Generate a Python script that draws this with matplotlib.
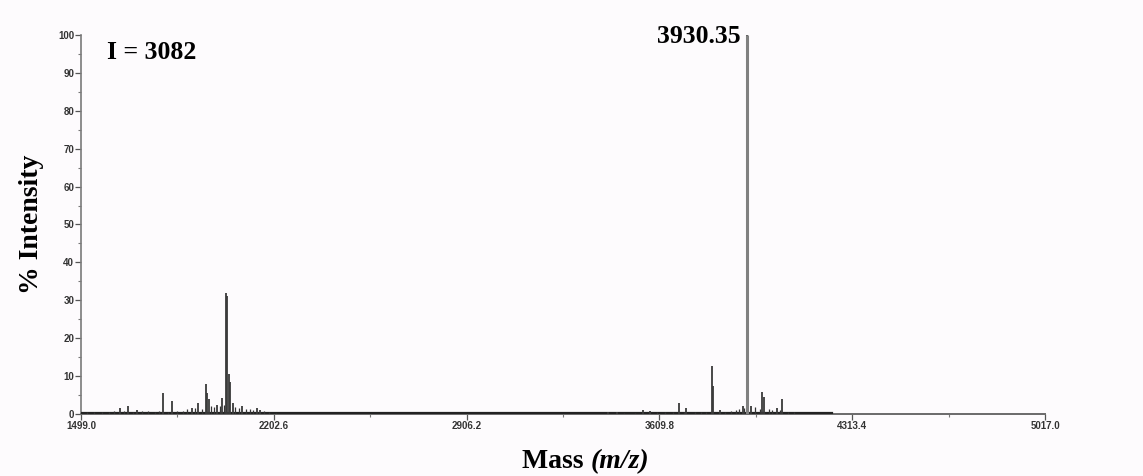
"""MALDI-TOF style stick spectrum, % intensity vs m/z."""

import matplotlib

matplotlib.use("Agg")
import matplotlib.pyplot as plt  # noqa: E402
from matplotlib.ticker import FixedLocator, MultipleLocator  # noqa: E402

# major peaks (m/z, % intensity)
peak_mz = [1641, 1670, 1703, 1798, 1831, 1904, 1926, 1955, 1959, 1966, 1995, 2014,
           2028, 2032, 2039, 2043, 2054, 2087, 2141, 2152,
           3422, 3455, 3550, 3576, 3681, 3707, 3803, 3805, 3832, 3913, 3930.35,
           3944, 3985, 3992, 4037, 4058]
peak_int = [1.5, 2.2, 1.0, 5.5, 3.5, 1.5, 3.0, 7.8, 5.5, 4.0, 2.5, 4.2,
            32.0, 31.0, 10.5, 8.5, 3.0, 2.0, 1.5, 1.0,
            0.5, 0.5, 1.0, 0.8, 2.8, 1.5, 12.7, 7.5, 1.0, 2.0, 100.0,
            2.0, 5.7, 4.5, 1.5, 3.9]

# small baseline features
noise_mz = [1520, 1545, 1575, 1600, 1620, 1655, 1690, 1720, 1745, 1770, 1785,
            1815, 1850, 1870, 1885, 1915, 1940, 1975, 1985, 2005, 2020, 2062,
            2075, 2100, 2115, 2125, 2165, 2185, 2210, 3480, 3520, 3600, 3630,
            3660, 3700, 3740, 3760, 3780, 3850, 3870, 3890, 3900, 3920, 3960,
            3975, 4010, 4020, 4050, 4080, 4100]
noise_int = [0.4, 0.5, 0.4, 0.6, 0.7, 0.8, 0.6, 0.7, 0.8, 0.5, 0.9,
             0.6, 0.8, 0.9, 1.2, 1.6, 1.4, 2.0, 1.8, 2.2, 2.5, 1.8,
             1.6, 1.4, 1.2, 1.0, 0.8, 0.5, 0.3, 0.3, 0.3, 0.4, 0.4,
             0.5, 0.5, 0.6, 0.5, 0.6, 0.6, 0.8, 1.0, 1.2, 1.5, 1.8,
             1.2, 1.3, 1.1, 1.0, 0.6, 0.4]

xtick_vals = [1499.0, 2202.6, 2906.2, 3609.8, 4313.4, 5017.0]
base_peak_label = "3930.35"
intensity_label = "I = 3082"


def main() -> None:
    fig = plt.figure(figsize=(11.43, 4.76), dpi=100, facecolor="#fdfbfd")
    ax = fig.add_axes([0.0709, 0.1303, 0.8434, 0.7962])
    ax.set_facecolor("#fdfbfd")

    ax.plot([1499, 4240], [0.25, 0.25], color="#222222", lw=1.6, zorder=3)
    ax.vlines(noise_mz, 0, noise_int, color="#333333", lw=0.9, zorder=3)
    ax.vlines(peak_mz, 0, peak_int, color="#3a3a3a", lw=1.3, zorder=4)
    ax.vlines([3930.35], 0, [100.0], color="#808080", lw=2.2, zorder=5)

    ax.set_xlim(1499.0, 5017.0)
    ax.set_ylim(0, 100)
    ax.set_xticks(xtick_vals)
    ax.set_xticklabels([f"{v:.1f}" for v in xtick_vals])
    mids = [(a + b) / 2 for a, b in zip(xtick_vals[:-1], xtick_vals[1:])]
    ax.xaxis.set_minor_locator(FixedLocator(mids))
    ax.yaxis.set_major_locator(MultipleLocator(10))
    ax.yaxis.set_minor_locator(MultipleLocator(5))

    for side in ("top", "right"):
        ax.spines[side].set_visible(False)
    ax.spines["left"].set_color("#7a7a7a")
    ax.spines["bottom"].set_color("#6a6a6a")
    ax.spines["left"].set_linewidth(1.2)
    ax.spines["bottom"].set_linewidth(1.4)

    ax.tick_params(axis="both", which="major", length=4, width=0.9, color="#555555",
                   labelsize=7, labelcolor="#333333", pad=1)
    ax.tick_params(axis="both", which="minor", length=2.5, width=0.8, color="#777777")
    for lab in ax.get_xticklabels() + ax.get_yticklabels():
        lab.set_fontweight("bold")
        lab.set_family("Liberation Sans")

    serif = "Liberation Serif"
    ax.set_ylabel("% Intensity", fontsize=20, fontweight="bold", family=serif, labelpad=10)
    fig.text(0.517, 0.03, "Mass ", fontsize=20, fontweight="bold", family=serif,
             ha="right", va="center")
    fig.text(0.517, 0.03, "(m/z)", fontsize=20, fontweight="bold", style="italic",
             family=serif, ha="left", va="center")

    ax.text(1594, 95.3, intensity_label, fontsize=18.5, fontweight="bold", family=serif,
            ha="left", va="center")
    ax.text(3905, 99.5, base_peak_label, fontsize=18.5, fontweight="bold", family=serif,
            ha="right", va="center", clip_on=False)

    fig.savefig("out.png", dpi=100, facecolor=fig.get_facecolor())
    plt.close(fig)


if __name__ == "__main__":
    main()
